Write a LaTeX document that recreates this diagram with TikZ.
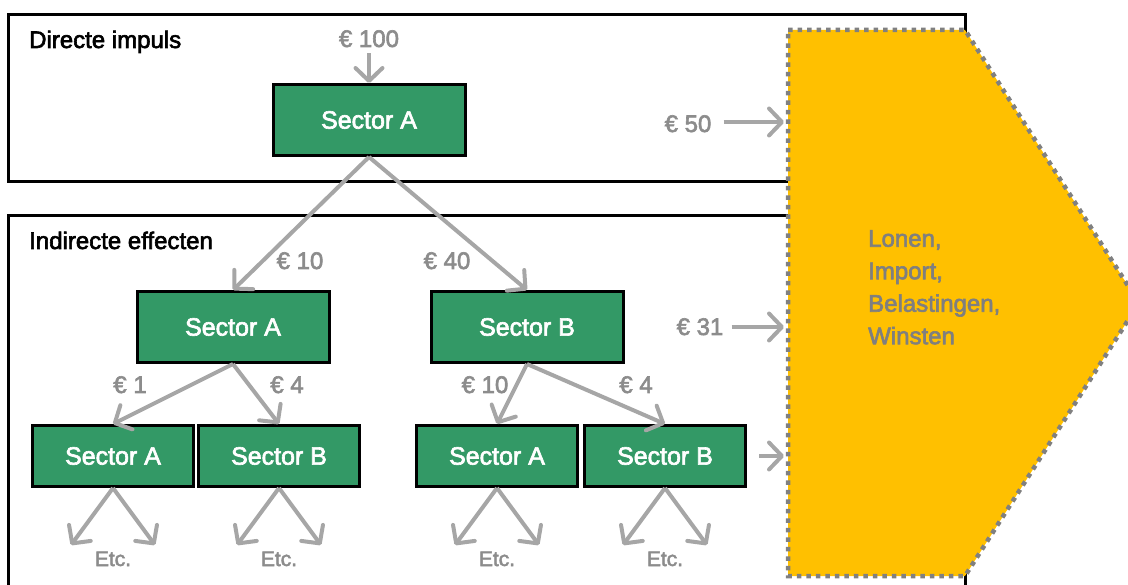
\documentclass[tikz,border=0pt]{standalone}
\usepackage{fontspec}
\setmainfont{Liberation Sans}
\newfontfamily\medsans{Liberation Sans}[FakeBold=2.5]
\usetikzlibrary{arrows.meta}
\definecolor{sgreen}{RGB}{51,153,102}
\definecolor{gold}{RGB}{255,192,0}
\definecolor{arrgray}{RGB}{166,166,166}
\definecolor{lblgray}{RGB}{140,140,140}
\definecolor{dotgray}{RGB}{128,128,128}
\definecolor{txtgray}{RGB}{127,127,127}
\begin{document}
\begin{tikzpicture}[x=1pt,y=-1pt,
  sector/.style={draw=black, line width=3pt, fill=sgreen, text=white,
    minimum width=192pt, minimum height=71pt, inner sep=0pt,
    font=\medsans\fontsize{25}{29}\selectfont},
  smallsector/.style={sector, minimum width=161pt, minimum height=61pt},
  arr/.style={draw=arrgray, line width=4pt,
    -{Straight Barb[round, length=13pt, width=27pt]}},
  lbl/.style={text=lblgray, inner sep=0pt, anchor=base,
    font=\medsans\fontsize{24}{28}\selectfont},
  etc/.style={text=lblgray, inner sep=0pt, anchor=base,
    font=\medsans\fontsize{21}{24}\selectfont},
  title/.style={text=black, inner sep=0pt, anchor=base west,
    font=\medsans\fontsize{24}{28}\selectfont},
  frame/.style={draw=black, line width=3pt}]
\clip (0,0) rectangle (1128,585);
% frames
\draw[frame] (8,15) rectangle (965,182);
\draw[frame] (8,216) rectangle (965,620);
% output polygon
\path[fill=gold, draw=dotgray, line width=4.5pt, dash pattern=on 4.5pt off 5pt]
  (788,30) -- (965,30) -- (1139,303) -- (965,576) -- (788,576) -- cycle;
\node[anchor=north west, align=left, text=txtgray, inner sep=0pt,
  font=\medsans\fontsize{24}{32.5}\selectfont] (out) at (868,230)
  {Lonen,\\Import,\\Belastingen,\\Winsten};
% titles
\node[title] (tdir) at (29,48) {Directe impuls};
\node[title] (tind) at (29,249) {Indirecte effecten};
% sector nodes
\node[sector] (t) at (369,120) {Sector A};
\node[sector] (ma) at (233,327) {Sector A};
\node[sector] (mb) at (527,327) {Sector B};
\node[smallsector] (b1) at (113,456) {Sector A};
\node[smallsector] (b2) at (279,456) {Sector B};
\node[smallsector] (b3) at (497,456) {Sector A};
\node[smallsector] (b4) at (665,456) {Sector B};
% amount labels
\node[lbl] (l100) at (369,47) {€ 100};
\node[lbl] (l50) at (688,132) {€ 50};
\node[lbl] (l31) at (700,335) {€ 31};
\node[lbl] (lma) at (300,269) {€ 10};
\node[lbl] (lmb) at (447,269) {€ 40};
\node[lbl] (lb1) at (130,393) {€ 1};
\node[lbl] (lb2) at (287,393) {€ 4};
\node[lbl] (lb3) at (485,393) {€ 10};
\node[lbl] (lb4) at (636,393) {€ 4};
% arrows in tree
\draw[arr, shorten <=6pt] (l100.south) -- (t.north);
\draw[arr] (t.south) -- (ma.north);
\draw[arr] (t.south) -- (mb.north);
\draw[arr] (ma.south) -- (b1.north);
\draw[arr] (ma.south) -- (b2.north);
\draw[arr] (mb.south) -- (b3.north);
\draw[arr] (mb.south) -- (b4.north);
% arrows into output
\coordinate (e50) at (784,122);
\coordinate (e31) at (784,327);
\coordinate (e3) at (784,456);
\draw[arr, shorten <=12pt] (l50.east |- e50) -- (e50);
\draw[arr, shorten <=8pt] (l31.east |- e31) -- (e31);
\draw[arr, shorten <=12pt] (b4.east) -- (e3);
% Etc. branches
\foreach \b/\x in {b1/113, b2/279, b3/497, b4/665}{
  \node[etc] (etc\b) at (\x,566) {Etc.};
  \coordinate (\b l) at (\x-42,545);
  \coordinate (\b r) at (\x+42,545);
  \draw[arr] (\b.south) -- (\b l);
  \draw[arr] (\b.south) -- (\b r);
}
\end{tikzpicture}
\end{document}
